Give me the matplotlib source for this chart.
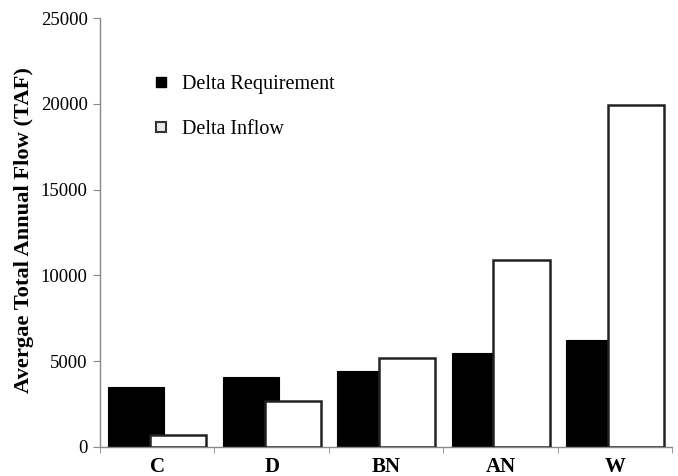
import matplotlib
matplotlib.use("Agg")
import matplotlib.pyplot as plt
from matplotlib.lines import Line2D
import numpy as np

categories = ["C", "D", "BN", "AN", "W"]
requirement = [3500, 4100, 4450, 5500, 6250]
inflow = [700, 2700, 5200, 10900, 19950]

plt.rcParams["font.family"] = ["Liberation Serif", "DejaVu Serif"]

fig = plt.figure(figsize=(6.78, 4.76), dpi=100)
ax = fig.add_axes([0.1475, 0.061, 0.844, 0.901])

x = np.arange(len(categories))
w = 0.49
off = 0.183
ax.bar(x - off, requirement, w, color="black", edgecolor="black", linewidth=0.8, zorder=2)
ax.bar(x + off, inflow, w, color="white", edgecolor="#222222", linewidth=1.8, zorder=3)

ax.set_xlim(-0.5, len(categories) - 0.5)
ax.set_ylim(0, 25000)
ax.set_yticks(np.arange(0, 25001, 5000))
ax.tick_params(axis="y", labelsize=13.5, direction="out", length=5, color="#888888", pad=4)

# category names centred, tick marks between groups
ax.set_xticks(x)
ax.set_xticklabels(categories, fontweight="bold", fontsize=15)
ax.tick_params(axis="x", which="major", length=0, pad=7)
ax.set_xticks(np.arange(-0.5, len(categories), 1.0), minor=True)
ax.tick_params(axis="x", which="minor", length=4, color="#888888", direction="out")

for side in ("top", "right"):
    ax.spines[side].set_visible(False)
for side in ("left", "bottom"):
    ax.spines[side].set_color("#888888")
    ax.spines[side].set_linewidth(1.0)

ax.set_ylabel("Avergae Total Annual Flow (TAF)", fontweight="bold", fontsize=16.2)
ax.yaxis.set_label_coords(-0.116, 0.505)

handles = [
    Line2D([], [], linestyle="none", marker="s", markersize=7,
           markerfacecolor="black", markeredgecolor="black"),
    Line2D([], [], linestyle="none", marker="s", markersize=7,
           markerfacecolor="#e8e8e8", markeredgecolor="#333333", markeredgewidth=1.5),
]
ax.legend(handles, ["Delta Requirement", "Delta Inflow"], loc="upper left",
          bbox_to_anchor=(0.058, 0.91), frameon=False, fontsize=14.5,
          labelspacing=1.3, handletextpad=0.5, handlelength=1.0)

fig.savefig("out.png", dpi=100)
